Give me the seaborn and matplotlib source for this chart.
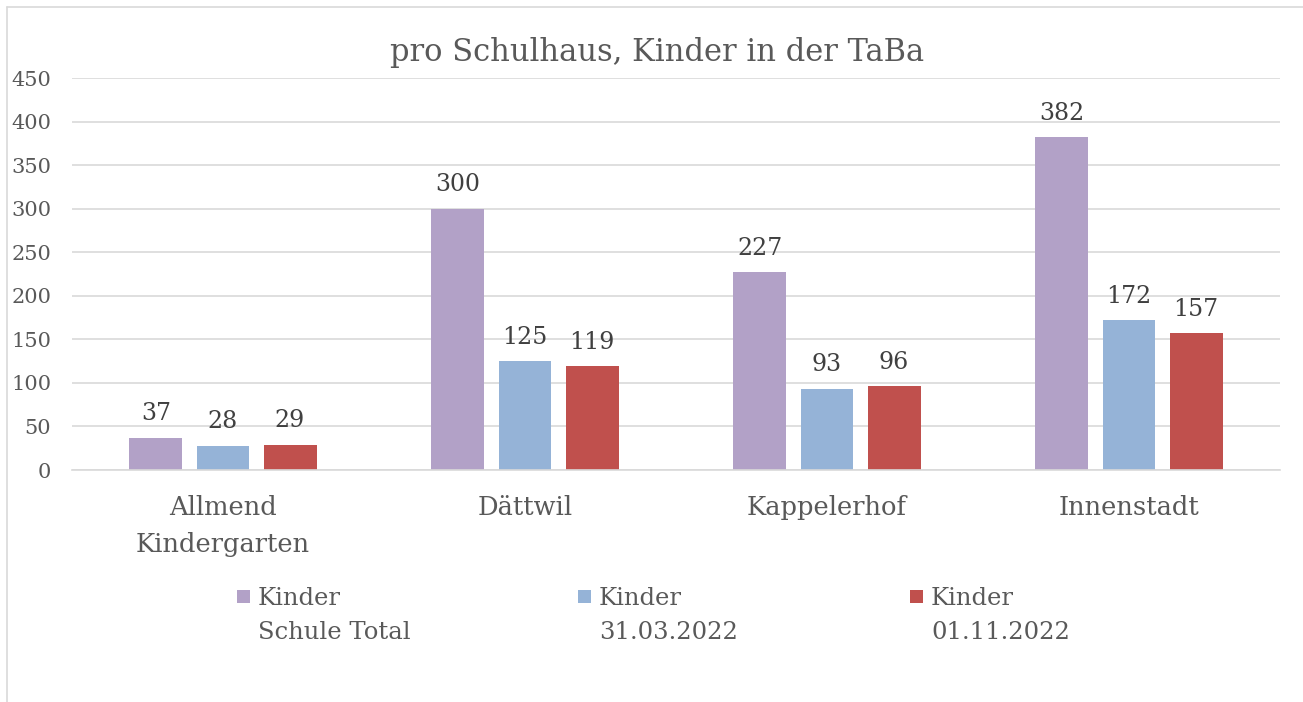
import matplotlib
matplotlib.use("Agg")
import matplotlib.pyplot as plt
import seaborn as sns
import pandas as pd
from matplotlib.lines import Line2D
from matplotlib.patches import Rectangle

categories = ["Allmend\nKindergarten", "Dättwil", "Kappelerhof", "Innenstadt"]
series_names = ["Kinder\nSchule Total", "Kinder\n31.03.2022", "Kinder\n01.11.2022"]
total = [37, 300, 227, 382]
march = [28, 125, 93, 172]
november = [29, 119, 96, 157]
yticks = [0, 50, 100, 150, 200, 250, 300, 350, 400, 450]
colors = ["#B2A1C7", "#95B3D7", "#C0504D"]
title = "pro Schulhaus, Kinder in der TaBa"

rows = []
for name, vals in zip(series_names, [total, march, november]):
    for c, v in zip(categories, vals):
        rows.append({"Schulhaus": c, "Serie": name, "Wert": v})
df = pd.DataFrame(rows)

sns.set_style("white")
plt.rcParams["font.family"] = ["DejaVu Serif"]
text_color = "#595959"

W, H = 1303, 702
fig = plt.figure(figsize=(W / 100, H / 100), dpi=100)
ax = fig.add_axes([72 / W, 1 - 470 / H, 1208 / W, 392 / H])

sns.barplot(data=df, x="Schulhaus", y="Wert", hue="Serie", order=categories,
            hue_order=series_names, palette=colors, width=0.666, gap=0.21,
            saturation=1, ax=ax, legend=False, edgecolor="none")

for cont in ax.containers:
    ax.bar_label(cont, fmt="%d", padding=9, fontsize=17, color="#404040")

ax.set_xlim(-0.5, 3.5)
ax.set_ylim(0, 450)
ax.set_yticks(yticks)
ax.set_yticklabels([str(t) for t in yticks], fontsize=15, color=text_color)
ax.tick_params(axis="y", length=0, pad=15)
ax.tick_params(axis="x", length=0, pad=18)
for lbl in ax.get_xticklabels():
    lbl.set_fontsize(18.5)
    lbl.set_color(text_color)
    lbl.set_linespacing(1.6)
ax.yaxis.grid(True, color="#D9D9D9", linewidth=1.2)
ax.set_axisbelow(True)
for s in ["left", "right", "top"]:
    ax.spines[s].set_visible(False)
ax.spines["bottom"].set_color("#D9D9D9")
ax.spines["bottom"].set_linewidth(1.2)
ax.set_xlabel("")
ax.set_ylabel("")

fig.text(657 / W, 1 - 53 / H, title, ha="center", va="center",
         fontsize=22, color=text_color)

# legend (square marker aligned with first text line)
sq_x = [237, 578, 910]
for x0, name, col in zip(sq_x, series_names, colors):
    fig.add_artist(Rectangle((x0 / W, 1 - 603 / H), 13 / W, 13 / H,
                             transform=fig.transFigure, facecolor=col,
                             edgecolor="none"))
    fig.text((x0 + 21) / W, 1 - 587 / H, name, ha="left", va="top",
             fontsize=17.5, color=text_color, linespacing=1.6)

# outer chart border (left and top visible)
fig.add_artist(Line2D([7 / W, 7 / W], [0, 1 - 7 / H], transform=fig.transFigure,
                      color="#D9D9D9", linewidth=1.2))
fig.add_artist(Line2D([7 / W, 1], [1 - 7 / H, 1 - 7 / H], transform=fig.transFigure,
                      color="#D9D9D9", linewidth=1.2))

fig.savefig("out.png", dpi=100)
